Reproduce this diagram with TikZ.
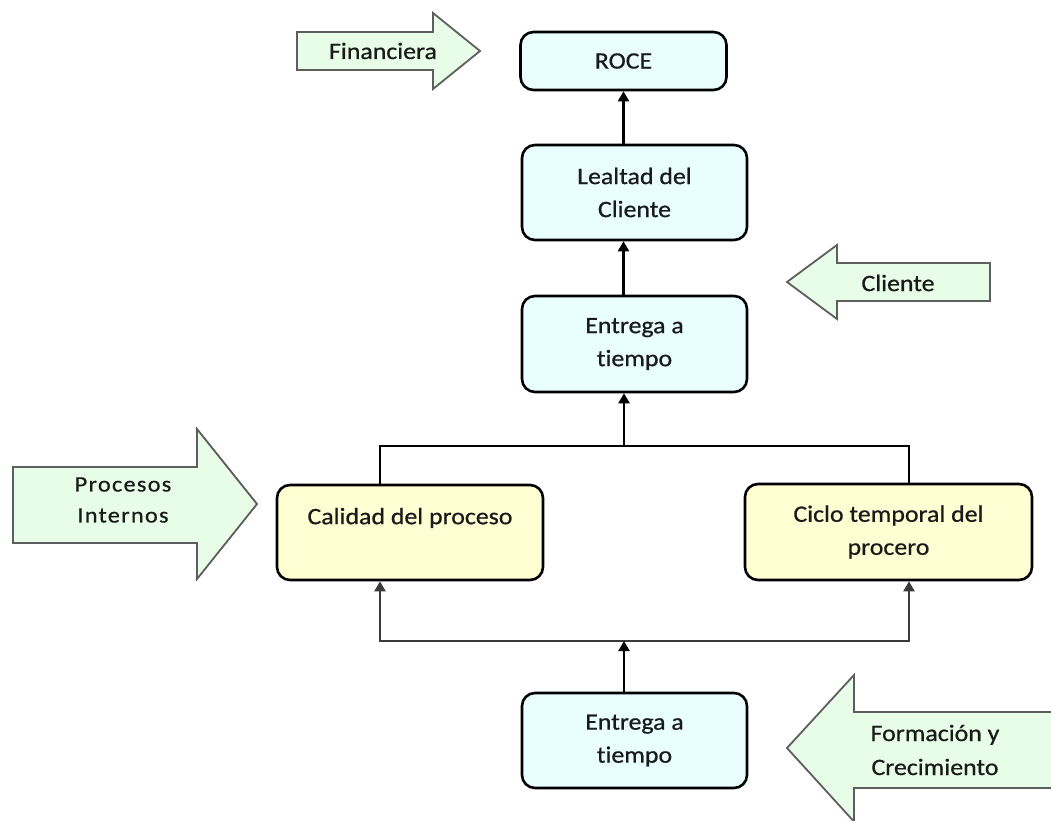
\documentclass[tikz,border=0pt]{standalone}
\usepackage{fontspec}
\setmainfont{Carlito}[FakeStretch=1.1, FakeBold=0.7, Ligatures=NoCommon]
\usetikzlibrary{arrows.meta}

\definecolor{boxcyan}{HTML}{E9FEFF}
\definecolor{boxyellow}{HTML}{FFFFD4}
\definecolor{arrowgreen}{HTML}{E7FDE7}
\definecolor{arrowedge}{HTML}{5E5E5E}
\definecolor{inktext}{HTML}{1A1A1A}
\definecolor{barink}{HTML}{3A3A3A}

\tikzset{
  stage/.style={draw=black, line width=2.6pt, rounded corners=13pt,
    fill=boxcyan, align=center, inner sep=0pt, text=inktext,
    font=\fontsize{23.5}{33}\selectfont},
  stagewarm/.style={stage, fill=boxyellow},
  perspective/.style={fill=arrowgreen, draw=arrowedge, line width=1.8pt,
    line join=miter},
  perspectivetext/.style={align=center, inner sep=0pt, text=inktext,
    font=\fontsize{23.5}{33}\selectfont},
  link/.style={draw=black, line width=2.2pt,
    -{Triangle[length=10pt,width=11pt]}},
  wire/.style={draw=black, line width=1.6pt},
}

\begin{document}
\begin{tikzpicture}[x=1pt, y=-1pt]
  \clip (0,0) rectangle (1051,821);
  \fill[white] (0,0) rectangle (1051,821);

  % perspective arrows
  \path[perspective] (297,32) -- (433,32) -- (433,13) -- (480,51)
    -- (433,89) -- (433,70) -- (297,70) -- cycle;
  \node[perspectivetext] (fin) at (383,51) {Financiera};

  \path[perspective] (990,263) -- (837,263) -- (837,245) -- (787,282)
    -- (837,319) -- (837,301) -- (990,301) -- cycle;
  \node[perspectivetext] (cli) at (898,283) {Cliente};

  \path[perspective] (13,467) -- (197,467) -- (197,429) -- (257,504)
    -- (197,579) -- (197,543) -- (13,543) -- cycle;
  \node[perspectivetext, font=\fontsize{22}{31}\selectfont\addfontfeatures{LetterSpace=6}]
    (proc) at (123,500) {Procesos\\Internos};

  \path[perspective] (1070,712) -- (854,712) -- (854,675) -- (787,748)
    -- (858,826) -- (854,826) -- (854,788) -- (1070,788) -- cycle;
  \node[perspectivetext, font=\fontsize{23.5}{34}\selectfont]
    (form) at (935,750) {Formación y\\Crecimiento};

  % objectives
  \node[stage, minimum width=206pt, minimum height=58pt]
    (roce) at (623.5,61) {ROCE};
  \node[stage, minimum width=225pt, minimum height=95pt]
    (lealtad) at (634.5,192.5) {Lealtad del\\Cliente};
  \node[stage, minimum width=225pt, minimum height=96pt]
    (entregaA) at (634.5,344) {Entrega a\\tiempo};
  \node[stagewarm, minimum width=266pt, minimum height=95pt]
    (calidad) at (410,532.5) {Calidad del proceso\\\mbox{}};
  \node[stagewarm, minimum width=287pt, minimum height=96pt]
    (ciclo) at (888.5,532) {Ciclo temporal del\\procero};
  \node[stage, minimum width=225pt, minimum height=95pt]
    (entregaB) at (634.5,740.5) {Entrega a\\tiempo};

  % branch points of the connectors
  \coordinate (topbar) at (624,446);
  \coordinate (qL) at (380,446);
  \coordinate (qR) at (909,446);
  \coordinate (botbar) at (624,641);
  \coordinate (pL) at (380,641);
  \coordinate (pR) at (909,641);

  % connectors
  \draw[link] (lealtad.north -| roce) -- (roce.south);
  \draw[link] (entregaA.north -| roce) -- (lealtad.south -| roce);
  \draw[wire] (calidad.north -| qL) -- (qL) -- (qR) -- (ciclo.north -| qR);
  \draw[link] (topbar) -- (entregaA.south -| topbar);
  \draw[link, draw=barink, {Triangle[length=10pt,width=11pt]}-{Triangle[length=10pt,width=11pt]}]
    (calidad.south -| pL) -- (pL) -- (pR) -- (ciclo.south -| pR);
  \draw[link] (entregaB.north -| botbar) -- (botbar);
\end{tikzpicture}
\end{document}
